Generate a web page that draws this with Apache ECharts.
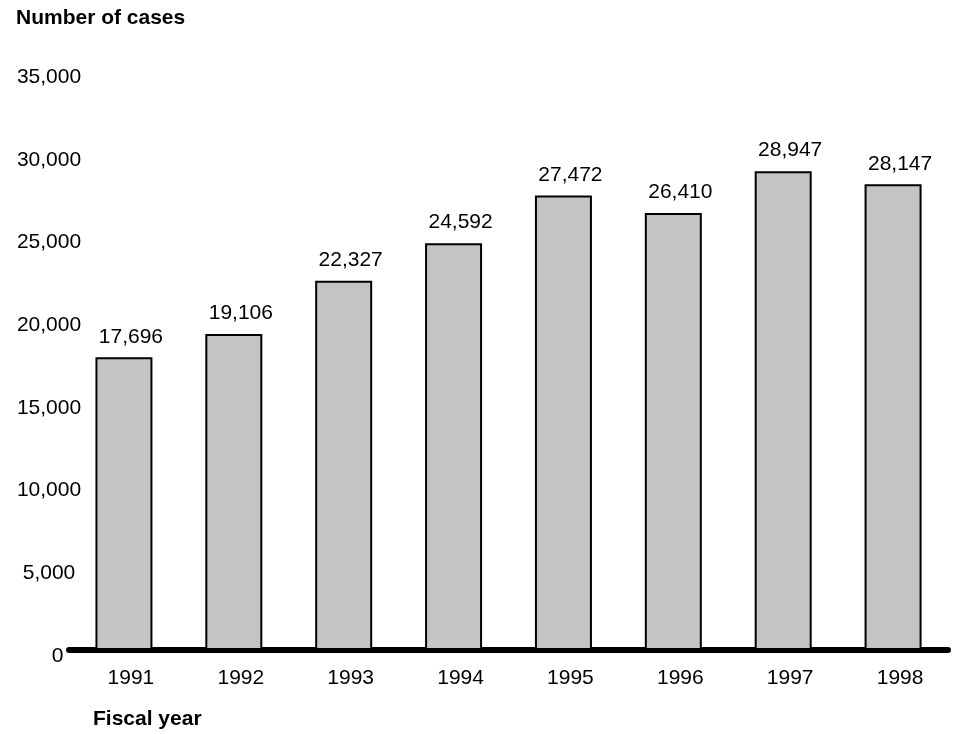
<!DOCTYPE html>
<html>
<head>
<meta charset="utf-8">
<script src="https://cdn.jsdelivr.net/npm/echarts@6/dist/echarts.min.js"></script>
<style>
html,body{margin:0;padding:0;background:#fff;}
#chart{width:954px;height:734px;}
</style>
</head>
<body>
<div id="chart"></div>
<script>
const years = ['1991','1992','1993','1994','1995','1996','1997','1998'];
const cases = [17696, 19106, 22327, 24592, 27472, 26410, 28947, 28147];
const yTicks = [0, 5000, 10000, 15000, 20000, 25000, 30000, 35000];
const yTitle = 'Number of cases';
const xTitle = 'Fiscal year';

const FONT = '"Liberation Sans", Arial, Helvetica, sans-serif';
const fmt = v => v.toLocaleString('en-US');

const chart = echarts.init(document.getElementById('chart'), null, {renderer: 'canvas'});
chart.setOption({
  backgroundColor: '#ffffff',
  animation: false,
  title: [
    {text: yTitle, left: 16, top: 8, padding: 0,
     textStyle: {fontFamily: FONT, fontSize: 21, fontWeight: 'bold', color: '#000'}},
    {text: xTitle, left: 93, top: 709, padding: 0,
     textStyle: {fontFamily: FONT, fontSize: 21, fontWeight: 'bold', color: '#000'}}
  ],
  grid: {left: 69, right: 6, top: 71, bottom: 84, containLabel: false},
  xAxis: {
    type: 'category',
    data: years,
    axisLine: {show: true, lineStyle: {color: '#000', width: 6}},
    axisTick: {show: false},
    axisLabel: {fontFamily: FONT, fontSize: 21, color: '#000', margin: 18,
                padding: [0, 0, 0, 14]},
    splitLine: {show: false}
  },
  yAxis: {
    type: 'value',
    min: yTicks[0],
    max: yTicks[yTicks.length - 1],
    interval: yTicks[1] - yTicks[0],
    axisLine: {show: false},
    axisTick: {show: false},
    splitLine: {show: false},
    axisLabel: {
      fontFamily: FONT, fontSize: 21, color: '#000', align: 'center', margin: 20,
      formatter: v => v === 0 ? '{z|0}' : '{a|' + fmt(v) + '}',
      rich: {
        a: {fontFamily: FONT, fontSize: 21, color: '#000', padding: [12, 0, 0, 0]},
        z: {fontFamily: FONT, fontSize: 21, color: '#000', padding: [12, 0, 0, 17]}
      }
    }
  },
  series: [{
    type: 'bar',
    data: cases,
    barWidth: 57,
    itemStyle: {color: '#c4c4c4', borderColor: '#000', borderWidth: 2},
    label: {
      show: true, position: 'top', distance: 10, offset: [7, 0],
      fontFamily: FONT, fontSize: 21, color: '#000',
      formatter: p => fmt(p.value)
    }
  }]
});
</script>
</body>
</html>
